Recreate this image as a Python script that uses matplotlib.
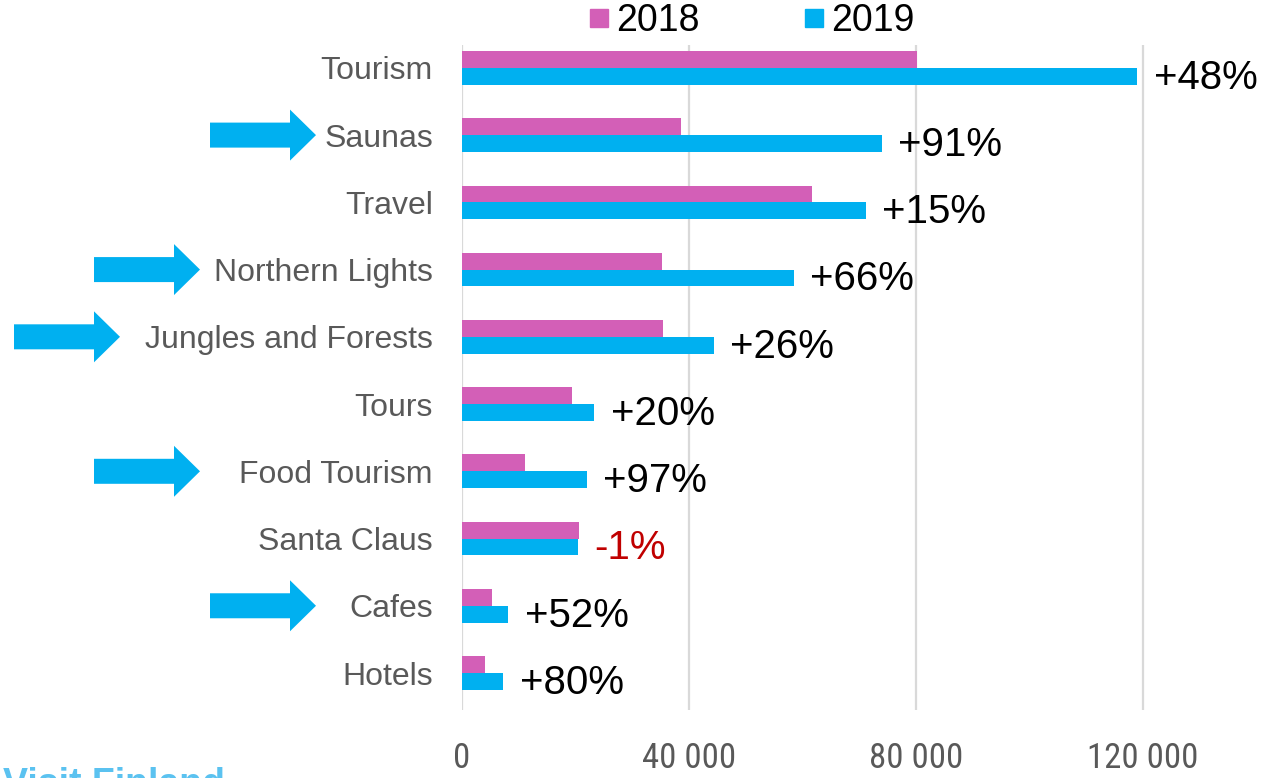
import matplotlib
matplotlib.use("Agg")
import matplotlib.pyplot as plt
import matplotlib.font_manager as fm
from matplotlib.patches import Polygon
from matplotlib.lines import Line2D
import numpy as np

# ---- data -----------------------------------------------------------------
categories = ["Tourism", "Saunas", "Travel", "Northern Lights", "Jungles and Forests",
              "Tours", "Food Tourism", "Santa Claus", "Cafes", "Hotels"]
v2018 = [80200, 38600, 61700, 35200, 35400, 19400, 11100, 20600, 5300, 4100]
v2019 = [119100, 74000, 71200, 58500, 44400, 23300, 22000, 20400, 8100, 7200]
growth = ["+48%", "+91%", "+15%", "+66%", "+26%", "+20%", "+97%", "-1%", "+52%", "+80%"]
xticks = [0, 40000, 80000, 120000]
xtick_labels = ["0", "40 000", "80 000", "120 000"]
# categories flagged with an arrow: (name, tail x px, tip x px)
arrows = [("Saunas", 210, 316), ("Northern Lights", 94, 200),
          ("Jungles and Forests", 14, 120), ("Food Tourism", 94, 200),
          ("Cafes", 210, 316)]

# ---- style ----------------------------------------------------------------
_avail = {f.name for f in fm.fontManager.ttflist}
SANS = next((f for f in ("Liberation Sans", "Arial", "DejaVu Sans") if f in _avail), "sans-serif")
NARROW = next((f for f in ("Liberation Sans Narrow", "Roboto Condensed", "Open Sans Condensed",
                           "DejaVu Sans Condensed") if f in _avail), None)
plt.rcParams.update({"font.family": "sans-serif", "font.sans-serif": [SANS, "DejaVu Sans"]})

PINK, BLUE = "#D35FB7", "#00B0F0"
GRAY, GRID = "#595959", "#D9D9D9"
W, H = 1268, 778

fig = plt.figure(figsize=(W / 100, H / 100), dpi=100)
ax = fig.add_axes([462 / W, 1 - 710 / H, (1256 - 462) / W, (710 - 45) / H])

y = np.arange(len(categories))
bh = 0.25
ax.barh(y - bh / 2, v2018, height=bh, color=PINK, label="2018", zorder=3)
ax.barh(y + bh / 2, v2019, height=bh, color=BLUE, label="2019", zorder=3)

for i, (v, g) in enumerate(zip(v2019, growth)):
    col = "#C00000" if g.startswith("-") else "black"
    ax.annotate(g, (v, i + bh / 2), xytext=(12, -1), textcoords="offset points",
                ha="left", va="center", fontsize=29, color=col)

ax.set_xlim(0, 140000)
ax.set_ylim(len(categories) - 0.45, -0.34)
ax.set_yticks(y)
ax.set_yticklabels(categories, fontsize=23, color=GRAY)
ax.set_xticks(xticks)
if NARROW:
    ax.set_xticklabels(xtick_labels, fontsize=25, color=GRAY, family=NARROW)
else:
    ax.set_xticklabels(xtick_labels, fontsize=23, color=GRAY, fontstretch="condensed")
ax.tick_params(axis="y", length=0, pad=21)
ax.tick_params(axis="x", length=0, pad=23)
ax.grid(axis="x", color=GRID, lw=1.6, zorder=0)
for s in ax.spines.values():
    s.set_visible(False)

handles = [Line2D([], [], ls="none", marker="s", ms=13, color=PINK, label="2018"),
           Line2D([], [], ls="none", marker="s", ms=13, color=BLUE, label="2019")]
fig.legend(handles=handles, loc="center", bbox_to_anchor=(752 / W, 1 - 21 / H),
           ncol=2, frameon=False, fontsize=27, handlelength=0.5,
           handletextpad=0.2, columnspacing=2.8, borderpad=0)

# blue arrows pointing at highlighted categories
for name, x0, x1 in arrows:
    i = categories.index(name)
    yc = ax.transData.transform((0, i))[1]          # display px (origin bottom)
    hl, sh, hh = 26, 12.5, 25.5
    pts_px = [(x0, yc - sh), (x1 - hl, yc - sh), (x1 - hl, yc - hh), (x1, yc),
              (x1 - hl, yc + hh), (x1 - hl, yc + sh), (x0, yc + sh)]
    pts = [(px / W, py / H) for px, py in pts_px]
    fig.patches.append(Polygon(pts, closed=True, transform=fig.transFigure,
                               facecolor=BLUE, edgecolor="none", figure=fig))

# partially visible logo at bottom left (cut off by the edge, as in the source)
fig.text(0.002, 1 - 767 / H, "Visit Finland", fontsize=27, fontweight="bold",
         color="#5BC2F0", ha="left", va="top")

fig.savefig("out.png", dpi=100, facecolor="white")
